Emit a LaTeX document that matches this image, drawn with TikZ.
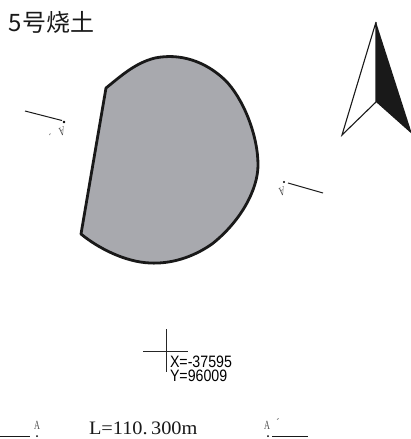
\documentclass[tikz,border=0pt]{standalone}
\usepackage{fontspec}
\setmainfont{Liberation Serif}
\newfontfamily\cjk{Noto Sans CJK SC}
\newfontfamily\sansf{Liberation Sans}
\definecolor{burnt}{RGB}{168,169,174}
\tikzset{
  px/.style={x=1pt,y=-1pt},
  lab/.style={inner sep=0pt,outer sep=0pt},
  sectline/.style={draw=black!90,line width=1pt},
  sectdot/.style={circle,fill=black,inner sep=0pt,minimum size=2.6pt},
  tinyA/.style={lab,font=\fontsize{12.5}{12.5}\selectfont,text=black!70,xscale=0.65},
  coordtext/.style={lab,anchor=west,font=\sansf\fontsize{16.5}{16.5}\selectfont,xscale=0.86},
}
\begin{document}
\begin{tikzpicture}[px]
\useasboundingbox (0,0) rectangle (411,439);
\node[lab,anchor=west,font=\cjk\fontsize{24}{24}\selectfont,text=black!90] (title) at (9,22) {5号烧土};

% burnt-earth outline
\draw[fill=burnt,draw=black!90,line width=2.8pt,line join=round]
  (106,88) .. controls (121,76) and (135,63) .. (155,58)
  .. controls (180,53) and (205,61) .. (225,80)
  .. controls (243,98) and (258,135) .. (258,165)
  .. controls (258,190) and (240,222) .. (212,244)
  .. controls (192,258) and (170,264) .. (150,263)
  .. controls (125,262) and (98,248) .. (81,234)
  -- cycle;

% north arrow
\coordinate (apex) at (376,22);
\coordinate (mid) at (376,102);
\coordinate (bl) at (342,135);
\coordinate (br) at (412,134);
\fill[black!90] (apex) -- (mid) -- (br) -- cycle;
\draw[black!90,line width=1.1pt,line join=miter] (apex) -- (bl) -- (mid) -- (apex);

% section marks left / right
\node[sectdot] (dl) at (64,122) {};
\coordinate (el) at (25,111);
\draw[sectline] (el) -- (62,120.5);
\node[tinyA,rotate=195] (al) at (62,132) {A};
\node[lab,font=\fontsize{11}{11}\selectfont,text=black!60,rotate=200] (pl) at (49,132) {´};
\node[sectdot,minimum size=2.2pt] (dr) at (284,182) {};
\coordinate (er) at (323,193);
\draw[sectline] (288,183) -- (er);
\node[tinyA,rotate=195] (ar) at (282,192) {A};

% datum cross
\coordinate (ct) at (166,329);
\coordinate (cb) at (166,372);
\coordinate (cl) at (143,351);
\coordinate (cr) at (188,351);
\draw[black!85,line width=0.8pt] (ct) -- (cb) (cl) -- (cr);
\node[coordtext] (xv) at (170,362) {X=-37595};
\node[coordtext] (yv) at (170,375.5) {Y=96009};

% bottom scale line
\coordinate (sl) at (0,436);
\node[sectdot,minimum size=2pt] (sd1) at (37,436) {};
\draw[sectline] (sl) -- (30,436);
\node[tinyA] (a1) at (37,425) {A};
\node[lab,anchor=west,font=\fontsize{19}{19}\selectfont,text=black!90,xscale=1.07] (len) at (89,428) {L=110.\,300m};
\node[sectdot,minimum size=2pt] (sd2) at (268,436) {};
\coordinate (sr) at (308,436);
\draw[sectline] (272,436) -- (sr);
\node[tinyA] (a2) at (267,425) {A};
\node[lab,font=\fontsize{11}{11}\selectfont,text=black!70] (a2p) at (278,423) {´};
\end{tikzpicture}
\end{document}
